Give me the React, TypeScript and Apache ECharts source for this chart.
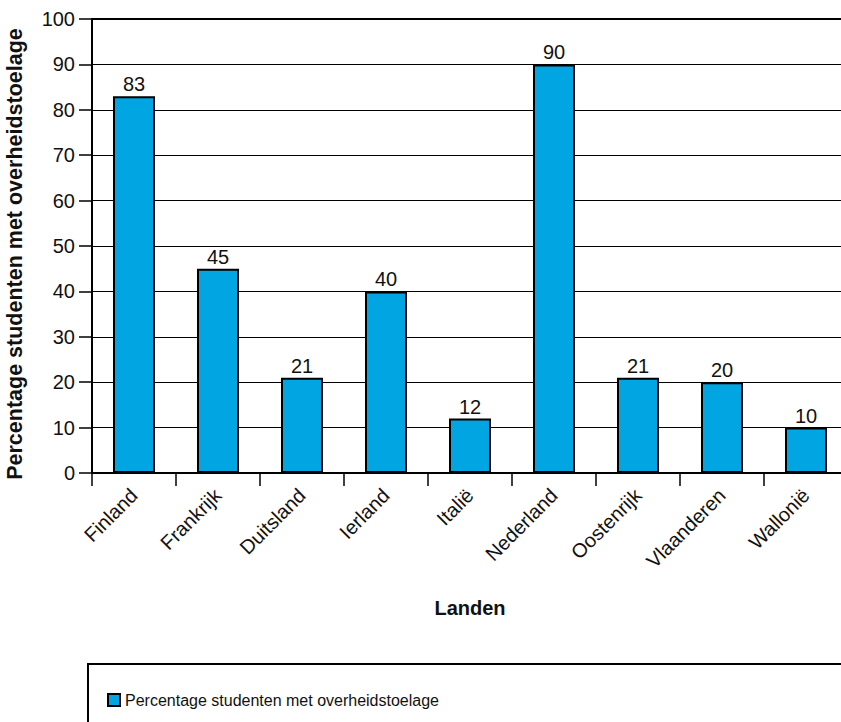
import React, { useEffect, useRef } from "react";
import * as echarts from "echarts";

const categories = ["Finland", "Frankrijk", "Duitsland", "Ierland", "Italië", "Nederland", "Oostenrijk", "Vlaanderen", "Wallonië"];
const values = [83, 45, 21, 40, 12, 90, 21, 20, 10];
const seriesName = "Percentage studenten met overheidstoelage";
const yAxisTitle = "Percentage studenten met overheidstoelage";
const xAxisTitle = "Landen";

const FONT = "'Liberation Sans', Arial, Helvetica, sans-serif";

export default function App() {
  const ref = useRef<HTMLDivElement>(null);
  useEffect(() => {
    if (!ref.current) return;
    const chart = echarts.init(ref.current, undefined, { renderer: "svg" });
    chart.setOption({
      animation: false,
      textStyle: { fontFamily: FONT },
      grid: {
        left: 92,
        top: 19,
        right: 52,
        bottom: 249,
        containLabel: false,
        outerBoundsMode: "none",
        show: true,
        borderColor: "#000",
        borderWidth: 2,
        backgroundColor: "transparent",
      },
      legend: {
        show: true,
        left: 102,
        top: 687,
        icon: "rect",
        itemWidth: 12,
        itemHeight: 12,
        itemGap: 10,
        textStyle: { fontSize: 16, color: "#111", fontFamily: FONT },
        data: [seriesName],
      },
      xAxis: {
        type: "category",
        data: categories,
        name: xAxisTitle,
        nameLocation: "middle",
        nameGap: 125,
        nameTextStyle: { fontSize: 20, fontWeight: "bold", color: "#111", fontFamily: FONT },
        axisLine: { lineStyle: { color: "#000", width: 2 } },
        axisTick: { show: true, alignWithLabel: false, length: 13, lineStyle: { color: "#000", width: 1.5 } },
        axisLabel: {
          rotate: 45,
          fontSize: 20,
          color: "#111",
          margin: 19,
          interval: 0,
          fontFamily: FONT,
        },
      },
      yAxis: {
        type: "value",
        min: 0,
        max: 100,
        interval: 10,
        name: yAxisTitle,
        nameLocation: "middle",
        nameGap: 66,
        nameTextStyle: { fontSize: 21.5, fontWeight: "bold", color: "#111", fontFamily: FONT, padding: [0, 16, 0, 0] },
        axisLine: { show: true, lineStyle: { color: "#000", width: 2 } },
        axisTick: { show: true, length: 13, lineStyle: { color: "#000", width: 1.5 } },
        axisLabel: { fontSize: 20, color: "#111", margin: 17, fontFamily: FONT },
        splitLine: { show: true, lineStyle: { color: "#000", width: 1 } },
      },
      graphic: [
        {
          type: "rect",
          shape: { x: 88, y: 664, width: 900, height: 200 },
          style: { fill: "none", stroke: "#000", lineWidth: 2 },
          silent: true,
          z: 0,
        },
      ],
      series: [
        {
          name: seriesName,
          type: "bar",
          data: values,
          barWidth: "50%",
          itemStyle: { color: "#00a5e1", borderColor: "#000", borderWidth: 2 },
          label: { show: true, position: "top", fontSize: 20, color: "#111", distance: 2, fontFamily: FONT },
        },
      ],
    });
    return () => chart.dispose();
  }, []);
  return (
    <div style={{ position: "fixed", left: 0, top: 0, width: 841, height: 722, overflow: "hidden", background: "#fff" }}>
      <div ref={ref} style={{ width: 900, height: 722 }} />
    </div>
  );
}
